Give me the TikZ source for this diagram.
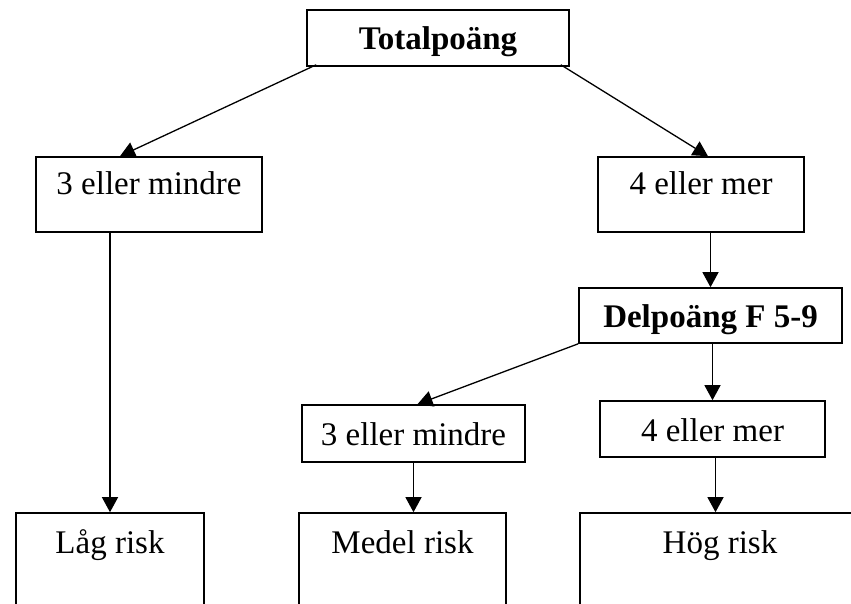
\documentclass[tikz,border=0pt]{standalone}
\usepackage{fontspec}
\setmainfont{Liberation Serif}
\usetikzlibrary{arrows.meta}

\begin{document}
\begin{tikzpicture}[x=1pt, y=-1pt,
every node/.style={draw, line width=1.6pt, inner sep=0pt,
    font=\fontsize{33}{40}\selectfont
    },
midbox/.style={text height=24pt, text depth=0pt},
highbox/.style={text height=12pt, text depth=12pt, minimum height=75pt},
endbox/.style={text height=10pt, text depth=40pt, minimum height=110pt},
arr/.style={line width=1.3pt, -{Triangle[length=15pt,width=16pt]}}
]
\path[use as bounding box] (0,0) rectangle (851,604);
\clip (0,0) rectangle (851,604);

\node[midbox, minimum width=262pt, minimum height=56pt] (tot) at (438,38) {\bfseries Totalpoäng};
\node[highbox, minimum width=226pt] (le3) at (149,194.5) {3 eller mindre};
\node[highbox, minimum width=206pt] (ge4) at (701,194.5) {4 eller mer};
\node[midbox, minimum width=263pt, minimum height=55pt] (del) at (710.5,315.5) {\bfseries Delpoäng F 5-9};
\node[midbox, minimum width=223pt, minimum height=57pt] (dle3) at (413.5,433.5) {3 eller mindre};
\node[midbox, minimum width=225pt, minimum height=56pt] (dge4) at (712.5,429) {4 eller mer};
\node[endbox, minimum width=188pt] (low) at (110,568) {Låg risk};
\node[endbox, minimum width=207pt] (mid) at (402.5,568) {Medel risk};
\node[endbox, minimum width=280pt] (high) at (720,568) {Hög risk};

\draw[arr] ([shift={(10,-2)}]tot.south west) -- ([xshift=-29pt]le3.north);
\draw[arr] ([shift={(-9,-2)}]tot.south east) -- ([xshift=7pt]ge4.north);
\draw[arr] (ge4.south -| del.north) -- (del.north);
\draw[arr] (le3.south -| low.north) -- (low.north);
\draw[arr] (del.south west) -- ([xshift=4pt]dle3.north);
\draw[arr] (del.south -| dge4.north) -- (dge4.north);
\draw[arr] (dle3.south) -- (dle3.south |- mid.north);
\draw[arr] ([xshift=3pt]dge4.south) -- ([xshift=3pt]dge4.south |- high.north);

\end{tikzpicture}
\end{document}
